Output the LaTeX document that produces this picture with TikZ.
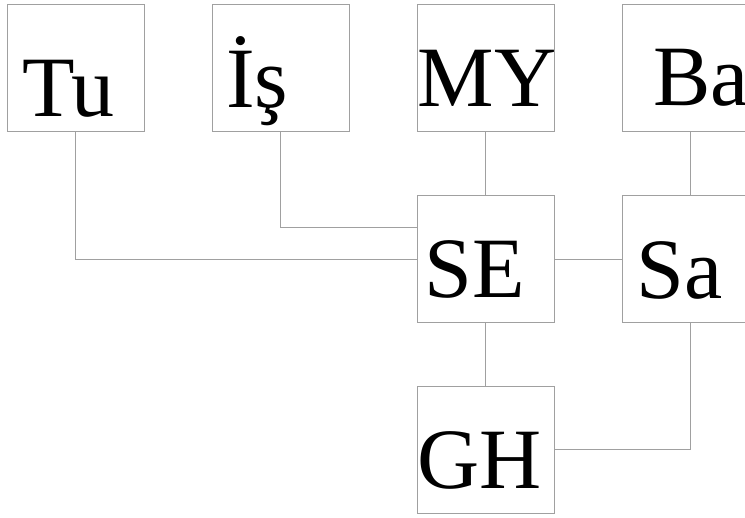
\documentclass[tikz,border=0pt]{standalone}
\usepackage{fontspec}
\setmainfont{Liberation Serif}
\usepackage{tikz}
\usetikzlibrary{positioning, calc}
\definecolor{boxgray}{RGB}{160,160,160}
\tikzset{
  box/.style={rectangle, draw=boxgray, fill=white, line width=1pt,
    minimum width=137pt, minimum height=127pt, inner sep=0pt},
  boxtext/.style={anchor=base west, inner sep=0pt,
    font=\fontsize{86}{90}\selectfont},
  link/.style={draw=boxgray, line width=1pt}
}
\begin{document}
\begin{tikzpicture}[x=1pt, y=1pt]
  \clip (0,0) rectangle (745,518);
  \fill[white] (0,0) rectangle (745,518);
  % Top row
  \node[box] (tu) at (75.5,450) {};
  \node[box, right=67pt of tu] (is) {};
  \node[box, right=67pt of is] (my) {};
  \node[box, right=67pt of my] (ba) {};
  % Middle row and bottom
  \node[box, below=63.5pt of my] (se) {};
  \node[box, right=67pt of se] (sa) {};
  \node[box, below=62.5pt of se] (gh) {};

  % Labels
  \node[boxtext] at ($(tu.north west)+(15.5,-113)$) {Tu};
  \node[boxtext] at ($(is.north west)+(14.5,-104)$) {İş};
  \node[boxtext] at ($(my.north west)+(1,-103)$) {MY};
  \node[boxtext] at ($(ba.north west)+(31.5,-102)$) {Ba};
  \node[boxtext] at ($(se.north west)+(7.5,-102)$) {SE};
  \node[boxtext] at ($(sa.north west)+(14.5,-103)$) {Sa};
  \node[boxtext] at ($(gh.north west)+(1,-103)$) {GH};

  % Connectors
  \coordinate (seup) at ($(se.north west)!0.25!(se.south west)$);
  \draw[link] (tu.south) |- (se.west);
  \draw[link] (is.south) |- (seup);
  \draw[link] (my.south) -- (se.north);
  \draw[link] (ba.south) -- (sa.north);
  \draw[link] (se.east) -- (sa.west);
  \draw[link] (se.south) -- (gh.north);
  \draw[link] (sa.south) |- (gh.east);
\end{tikzpicture}
\end{document}
